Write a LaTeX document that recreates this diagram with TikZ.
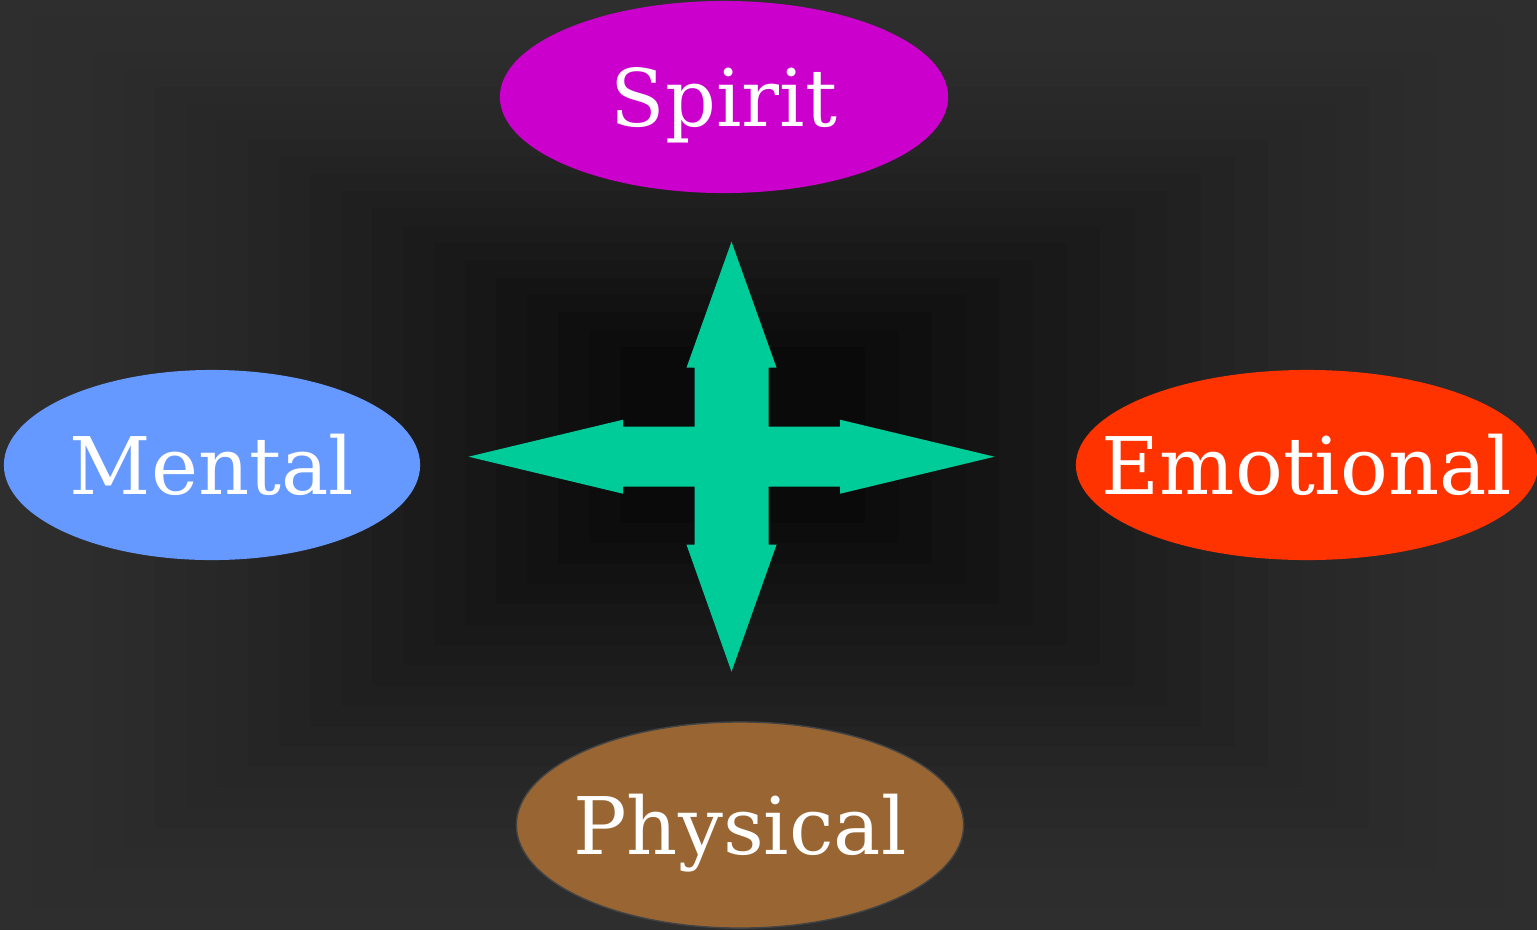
\documentclass[tikz,border=0pt]{standalone}
\usepackage{fontspec}
\setmainfont{DejaVu Serif}
\usepackage{xcolor}
\usepackage{tikz}
\usetikzlibrary{calc,shapes.geometric}
\definecolor{spiritx}{HTML}{CC00CC}
\definecolor{mentalx}{HTML}{6699FF}
\definecolor{emotex}{HTML}{FF3300}
\definecolor{physx}{HTML}{996633}
\definecolor{crossx}{HTML}{00CC99}
\definecolor{rimx}{HTML}{444444}
\tikzset{
  blob/.style={ellipse,inner xsep=-1.5cm,inner ysep=0pt,text=white,
    font=\fontsize{22.6}{27}\selectfont,text height=16.5pt,text depth=0pt},
  cross/.style={fill=crossx}
}

\begin{document}
\begin{tikzpicture}[x=0.01cm,y=-0.01cm]
\useasboundingbox (0,0) rectangle (1537,930);
% stepped dark backdrop
\foreach \t in {0,0.05,...,1.01}{
  \pgfmathsetmacro{\lum}{18-14*(\t)^1.5}
  \fill[black!\fpeval{100-\lum}] (620*\t,347*\t) rectangle (1537-672*\t,930-407*\t);
}
\coordinate (hub) at (731.5,456.7);
\node[blob,fill=spiritx,minimum width=4.48cm,minimum height=1.92cm] (spirit) at (724,97) {Spirit};
\node[blob,fill=mentalx,minimum width=4.16cm,minimum height=1.90cm] (mental) at (212,465) {Mental};
\node[blob,fill=emotex,minimum width=4.62cm,minimum height=1.90cm] (emotional) at (1307,465) {Emotional};
\node[blob,fill=physx,draw=rimx,thin,minimum width=4.47cm,minimum height=2.06cm] (physical) at (740,825) {Physical};
% four-way arrow
\begin{scope}[shift={(hub)}]
\fill[cross] (0,-215) -- (45,-89) -- (37,-89) -- (37,-30) -- (108.5,-30) -- (108.5,-37)
  -- (263,0) -- (108.5,37) -- (108.5,30) -- (37,30) -- (37,88) -- (45,88)
  -- (0,215) -- (-45,88) -- (-37,88) -- (-37,30) -- (-108.5,30) -- (-108.5,37)
  -- (-263,0) -- (-108.5,-37) -- (-108.5,-30) -- (-37,-30) -- (-37,-89) -- (-45,-89) -- cycle;
\end{scope}
\end{tikzpicture}
\end{document}
